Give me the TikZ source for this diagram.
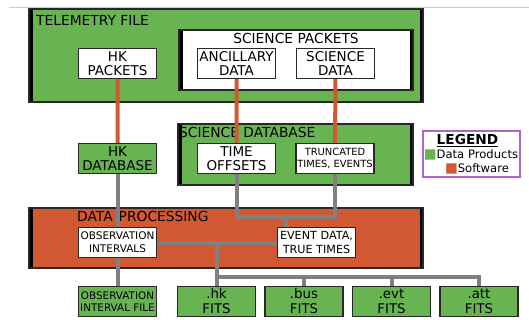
\documentclass[tikz,border=0pt]{standalone}
\usepackage{fontspec}
\setmainfont{DejaVu Sans}
\usetikzlibrary{positioning}

\definecolor{prodgreen}{RGB}{104,180,82}
\definecolor{swred}{RGB}{210,88,50}
\definecolor{linkgray}{RGB}{128,128,128}
\definecolor{legendpurple}{RGB}{175,100,205}
\definecolor{edgegray}{RGB}{40,40,40}

\newcommand{\legsquare}[1]{\smash{\fontsize{13.5}{13}\selectfont\color{#1}■}}

\tikzset{
  container/.style={draw=edgegray, line width=2pt, inner sep=0pt,
    path picture={
      \fill[black] (path picture bounding box.north west) rectangle ([xshift=3.5pt]path picture bounding box.south west);
      \fill[black] (path picture bounding box.north east) rectangle ([xshift=-3.5pt]path picture bounding box.south east);}},
  box/.style={draw=edgegray, line width=1.2pt, inner sep=0pt, align=center,
    minimum width=78pt, minimum height=30pt,
    font=\fontsize{13.5}{14}\selectfont},
  databox/.style={box, fill=white},
  prodbox/.style={box, fill=prodgreen},
  title/.style={inner sep=0pt, anchor=west, font=\fontsize{13.8}{16}\selectfont},
  swlink/.style={draw=swred, line width=4pt},
  prodlink/.style={draw=linkgray, line width=4pt},
  legendtext/.style={inner sep=0pt, font=\fontsize{11.6}{13}\selectfont}
}

\begin{document}
\begin{tikzpicture}[x=1pt,y=-1pt,node distance=87.5pt]
    \useasboundingbox (0,0) rectangle (529,320);
    \draw[black!20, line width=0.8pt] (9,7) -- (529,7);

    % containers
    \node[container, fill=prodgreen, minimum width=394pt, minimum height=93pt] (tlm)  at (226,55.5) {};
    \node[container, fill=white,     minimum width=234pt, minimum height=60pt] (scip) at (296,60)   {};
    \node[container, fill=prodgreen, minimum width=235pt, minimum height=61pt] (scidb) at (295.5,154.5) {};
    \node[container, fill=swred,     minimum width=394pt, minimum height=60pt] (proc) at (226,238)  {};

    \node[title] (tlmtitle)   at (36,20.5)  {TELEMETRY FILE};
    \node[title, anchor=center] (sciptitle) at (296,38) {SCIENCE PACKETS};
    \node[title] (scidbtitle) at (179,132) {SCIENCE DATABASE};
    \node[title] (proctitle)  at (77,216.5) {DATA\hspace{6pt}PROCESSING};

    % boxes
    \node[databox] (hkpk)  at (117.5,63.5) {HK\\PACKETS};
    \node[databox] (anc)   at (236.5,63.5) {ANCILLARY\\DATA};
    \node[databox] (scid)  at (335.5,63.5) {SCIENCE\\DATA};
    \node[prodbox] (hkdb)  at (117.5,158.5) {HK\\DATABASE};
    \node[databox] (toff)  at (236.5,158.5) {TIME\\OFFSETS};
    \node[databox, font=\fontsize{9.9}{11.7}\selectfont] (trunc) at (335,158.5) {TRUNCATED\\TIMES, EVENTS};
    \node[databox, font=\fontsize{10.5}{13.3}\selectfont] (obsint) at (117.5,242.5) {OBSERVATION\\INTERVALS};
    \node[databox, font=\fontsize{11.2}{14}\selectfont] (evtdata) at (316.5,242.5) {EVENT DATA,\\TRUE TIMES};
    \node[prodbox, font=\fontsize{10.4}{11.3}\selectfont] (obsfile) at (117.5,301.5) {OBSERVATION\\INTERVAL FILE};
    \node[prodbox, font=\fontsize{13.3}{15}\selectfont] (hkfits)  at (216.5,301.5) {.hk\\FITS};
    \node[prodbox, font=\fontsize{13.3}{15}\selectfont] (busfits) [right of=hkfits]  {.bus\\FITS};
    \node[prodbox, font=\fontsize{13.3}{15}\selectfont] (evtfits) [right of=busfits] {.evt\\FITS};
    \node[prodbox, font=\fontsize{13.3}{15}\selectfont] (attfits) [right of=evtfits] {.att\\FITS};

    % legend
    \node[draw=legendpurple, line width=2pt, fill=white, minimum width=97pt, minimum height=46pt] (legend) at (471.5,154) {};
    \node[legendtext] (legtitle) at (467.5,141) {\fontsize{13.7}{15}\selectfont\underline{\textbf{LEGEND}}};
    \node[legendtext] (legprod)  at (471,154) {\legsquare{prodgreen}Data Products};
    \node[legendtext] (legsw)    at (477,168) {\legsquare{swred}Software};

    % links
    \coordinate (tj) at (286,217);
    \coordinate (fj) at (216.5,242.5);
    \coordinate (fb) at (216.5,277);
    \path[swlink] (hkpk) -- (hkdb)
                  (anc)  -- (toff)
                  (scid) -- (trunc);
    \path[prodlink] (hkdb) -- (obsint)
                    (obsint) -- (obsfile)
                    (toff.south) |- (tj) -| (trunc.south)
                    (tj) -- (tj |- evtdata.north)
                    (obsint) -- (evtdata)
                    (fj) -- (hkfits.north)
                    (fb) -| (busfits.north)
                    (fb) -| (evtfits.north)
                    (fb) -| (attfits.north);
\end{tikzpicture}
\end{document}
